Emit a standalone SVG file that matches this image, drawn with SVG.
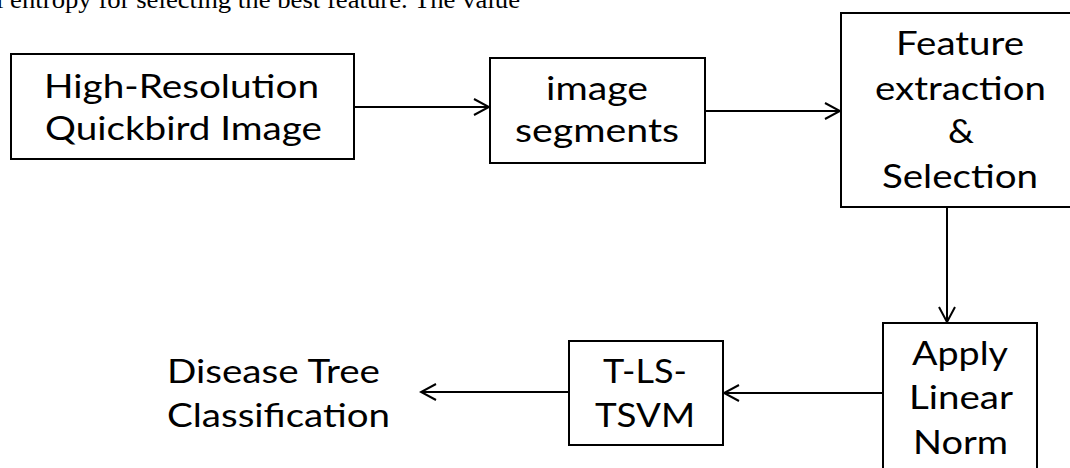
<svg xmlns="http://www.w3.org/2000/svg" width="1070" height="468" viewBox="0 0 1070 468">
<defs>
<style>
.box{fill:#fff;stroke:#000;stroke-width:2}
.lbl{font-family:Lato,"Open Sans",sans-serif;font-size:33px;fill:#000}
.con{stroke:#000;stroke-width:2;fill:none;marker-end:url(#arr)}
.top{font-family:"Liberation Serif","Times New Roman",serif;font-size:26px;fill:#000}
</style>
<marker id="arr" markerUnits="userSpaceOnUse" viewBox="-17 -10 19 20" markerWidth="19" markerHeight="20" refX="0" refY="0" orient="auto">
<path d="M-15,-8 L0,0 L-15,8" fill="none" stroke="#000" stroke-width="2"/>
</marker>
</defs>
<rect width="1070" height="468" fill="#fff"/>
<text class="top" x="-4" y="8" textLength="524" lengthAdjust="spacingAndGlyphs">l entropy for selecting the best feature. The value</text>
<g id="connectors">
<line class="con" x1="354" y1="107" x2="489" y2="107"/>
<line class="con" x1="705" y1="111" x2="840" y2="111"/>
<line class="con" x1="947" y1="207" x2="947" y2="322"/>
<line class="con" x1="883" y1="393" x2="724" y2="393"/>
<line class="con" x1="569" y1="392" x2="421" y2="392"/>
</g>
<g id="n1">
<rect class="box" x="11" y="54" width="343" height="105"/>
<text class="lbl" x="44" y="98" textLength="275" lengthAdjust="spacingAndGlyphs">High-Resolution</text>
<text class="lbl" x="45" y="140" textLength="277" lengthAdjust="spacingAndGlyphs">Quickbird Image</text>
</g>
<g id="n2">
<rect class="box" x="490" y="58" width="215" height="105"/>
<text class="lbl" x="546" y="100" textLength="102" lengthAdjust="spacingAndGlyphs">image</text>
<text class="lbl" x="515" y="142" textLength="164" lengthAdjust="spacingAndGlyphs">segments</text>
</g>
<g id="n3">
<rect class="box" x="841" y="13" width="240" height="194"/>
<text class="lbl" x="896" y="55" textLength="128" lengthAdjust="spacingAndGlyphs">Feature</text>
<text class="lbl" x="875" y="100" textLength="171" lengthAdjust="spacingAndGlyphs">extraction</text>
<text class="lbl" x="948" y="143" textLength="26" lengthAdjust="spacingAndGlyphs">&amp;</text>
<text class="lbl" x="882" y="188" textLength="156" lengthAdjust="spacingAndGlyphs">Selection</text>
</g>
<g id="n4">
<rect class="box" x="883" y="323" width="154" height="160"/>
<text class="lbl" x="912" y="365" textLength="96" lengthAdjust="spacingAndGlyphs">Apply</text>
<text class="lbl" x="909" y="409" textLength="104" lengthAdjust="spacingAndGlyphs">Linear</text>
<text class="lbl" x="913" y="454" textLength="95" lengthAdjust="spacingAndGlyphs">Norm</text>
</g>
<g id="n5">
<rect class="box" x="569" y="341" width="154" height="104"/>
<text class="lbl" x="603" y="383" textLength="84" lengthAdjust="spacingAndGlyphs">T-LS-</text>
<text class="lbl" x="595" y="427" textLength="100" lengthAdjust="spacingAndGlyphs">TSVM</text>
</g>
<g id="n6">
<text class="lbl" x="167" y="383" textLength="213" lengthAdjust="spacingAndGlyphs">Disease Tree</text>
<text class="lbl" x="167" y="427" textLength="223" lengthAdjust="spacingAndGlyphs">Classification</text>
</g>
</svg>
